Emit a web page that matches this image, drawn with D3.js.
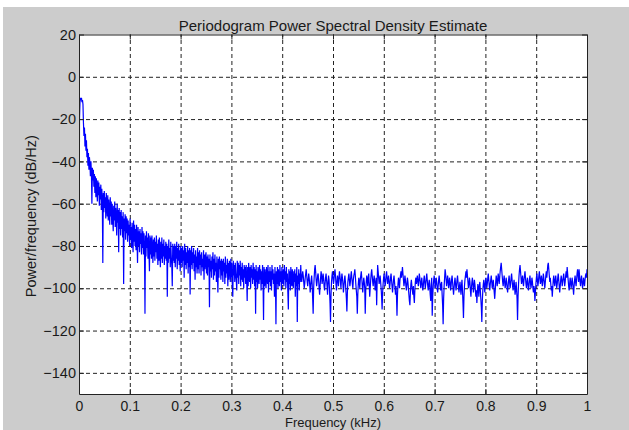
<!DOCTYPE html>
<html>
<head>
<meta charset="utf-8">
<script src="https://cdn.jsdelivr.net/npm/d3@7"></script>
<style>
  body { margin: 0; background: #fff; }
  svg text { font-family: "Liberation Sans", Arial, sans-serif; fill: #1a1a1a; }
</style>
</head>
<body>
<script>
// periodogram values (dB/Hz), 1025 bins evenly spaced 0..1 kHz
// (16 bins per row = 1/64 kHz)
const psdDb = [
  -114, -20, -12, -10, -11, -10, -12, -11, -13, -22, -28, -24, -33, -27, -35, -30,
  -38, -34, -42, -36, -44, -38, -41, -47, -40, -45, -60, -43, -49, -44, -52, -46,
  -55, -47, -57, -48, -53, -59, -49, -56, -50, -61, -52, -58, -51, -63, -53, -59,
  -88, -55, -64, -54, -62, -57, -67, -55, -61, -66, -56, -68, -58, -63, -70, -57,
  -66, -59, -70, -60, -67, -73, -61, -68, -59, -71, -62, -66, -75, -60, -69, -63,
  -83, -62, -72, -64, -75, -63, -72, -66, -76, -64, -98, -67, -73, -65, -77, -66,
  -74, -67, -78, -68, -75, -70, -80, -67, -77, -71, -81, -69, -76, -83, -68, -78,
  -70, -80, -72, -82, -70, -78, -88, -71, -80, -73, -83, -72, -79, -74, -84, -71,
  -81, -73, -84, -74, -82, -112, -75, -85, -73, -81, -76, -86, -74, -83, -92, -75,
  -84, -76, -86, -75, -82, -88, -77, -85, -76, -87, -78, -83, -75, -86, -79, -89,
  -77, -87, -76, -84, -90, -78, -86, -76, -88, -79, -85, -77, -89, -80, -86, -78,
  -87, -79, -104, -80, -88, -77, -86, -81, -90, -78, -85, -89, -99, -79, -87, -80,
  -88, -79, -90, -80, -86, -78, -91, -81, -87, -79, -89, -82, -92, -80, -88, -81,
  -90, -80, -87, -82, -95, -79, -89, -81, -91, -83, -88, -80, -93, -82, -90, -81,
  -103, -82, -89, -80, -91, -83, -88, -81, -92, -84, -96, -82, -90, -85, -93, -81,
  -91, -83, -93, -82, -89, -84, -94, -83, -90, -86, -92, -82, -96, -84, -91, -85,
  -83, -93, -85, -94, -84, -90, -86, -109, -84, -92, -87, -95, -85, -91, -83, -96,
  -86, -94, -84, -92, -88, -97, -85, -93, -102, -86, -95, -85, -91, -87, -96, -86,
  -94, -87, -97, -86, -92, -88, -98, -85, -95, -89, -93, -86, -99, -88, -96, -87,
  -89, -97, -86, -95, -88, -98, -104, -87, -94, -89, -97, -88, -93, -96, -101, -87,
  -95, -88, -98, -89, -94, -87, -99, -90, -96, -88, -97, -91, -100, -89, -95, -90,
  -98, -89, -96, -106, -90, -99, -88, -94, -97, -90, -100, -89, -95, -91, -98, -88,
  -96, -90, -99, -91, -112, -89, -97, -92, -100, -90, -95, -98, -89, -96, -91, -101,
  -92, -98, -89, -97, -115, -90, -99, -91, -96, -100, -90, -95, -98, -89, -102, -92,
  -97, -90, -99, -92, -101, -89, -96, -91, -98, -93, -104, -90, -97, -117, -92, -98,
  -90, -100, -91, -96, -99, -89, -97, -92, -101, -90, -95, -98, -91, -99, -89, -96,
  -92, -100, -90, -97, -93, -102, -110, -91, -98, -92, -101, -90, -96, -99, -91, -97,
  -100, -92, -97, -91, -104, -93, -99, -90, -116, -94, -98, -91, -101, -93, -97, -89,
  -95, -97, -94, -92, -94, -97, -100, -98, -95, -93, -91, -94, -97, -99, -96, -93,
  -95, -98, -102, -99, -96, -94, -98, -105, -112, -100, -95, -91, -89, -92, -96, -99,
  -97, -94, -93, -96, -100, -103, -99, -95, -92, -94, -98, -96, -93, -95, -99, -101,
  -98, -95, -93, -96, -99, -103, -97, -94, -96, -101, -107, -116, -103, -97, -94, -92,
  -95, -98, -96, -93, -91, -94, -98, -101, -97, -94, -96, -99, -95, -92, -94, -97,
  -100, -96, -93, -95, -98, -102, -99, -96, -94, -97, -101, -105, -111, -102, -97, -95,
  -93, -96, -99, -97, -94, -92, -95, -98, -100, -96, -94, -93, -91, -94, -98, -101,
  -104, -112, -103, -98, -95, -97, -100, -96, -94, -92, -95, -99, -102, -98, -95, -97,
  -100, -112, -101, -97, -94, -96, -99, -95, -93, -98, -104, -100, -96, -93, -91, -94,
  -97, -99, -96, -94, -97, -101, -98, -95, -108, -97, -89, -92, -95, -98, -96, -94,
  -97, -100, -104, -110, -102, -98, -95, -93, -96, -99, -97, -94, -92, -95, -98, -96,
  -94, -97, -100, -98, -95, -93, -96, -99, -102, -99, -96, -94, -97, -100, -103, -99,
  -104, -113, -103, -98, -95, -97, -100, -96, -94, -92, -95, -93, -90, -93, -96, -99,
  -97, -94, -96, -99, -101, -98, -95, -97, -100, -103, -106, -108, -102, -98, -96, -99,
  -101, -103, -99, -104, -107, -101, -97, -95, -98, -96, -94, -97, -99, -96, -93, -95,
  -98, -100, -97, -95, -98, -101, -99, -96, -94, -97, -100, -98, -95, -93, -96, -99,
  -101, -98, -96, -99, -103, -106, -98, -95, -113, -104, -99, -96, -94, -97, -100, -98,
  -95, -97, -100, -102, -99, -96, -94, -97, -99, -101, -98, -97, -103, -108, -117, -105,
  -99, -95, -91, -93, -96, -99, -97, -94, -96, -100, -98, -95, -97, -101, -99, -96,
  -94, -97, -100, -103, -100, -97, -95, -98, -101, -99, -96, -94, -97, -100, -102, -99,
  -97, -100, -103, -99, -96, -101, -107, -114, -104, -99, -96, -94, -92, -95, -91, -94,
  -97, -100, -98, -95, -97, -101, -104, -100, -97, -95, -98, -102, -99, -96, -98, -101,
  -104, -101, -107, -102, -98, -100, -104, -99, -97, -101, -105, -109, -116, -106, -101, -98,
  -96, -99, -102, -98, -95, -97, -100, -98, -95, -93, -96, -99, -101, -98, -96, -94,
  -97, -100, -98, -96, -99, -102, -105, -101, -97, -94, -96, -99, -96, -93, -95, -98,
  -95, -92, -90, -88, -91, -94, -97, -99, -96, -94, -97, -100, -98, -95, -97, -100,
  -102, -99, -96, -94, -97, -100, -98, -95, -93, -96, -99, -101, -98, -96, -99, -103,
  -101, -97, -100, -105, -115, -104, -98, -94, -91, -89, -92, -95, -98, -96, -94, -97,
  -99, -96, -94, -92, -95, -98, -100, -97, -95, -98, -101, -99, -96, -94, -97, -100,
  -98, -95, -97, -100, -102, -99, -101, -106, -102, -98, -95, -93, -96, -99, -97, -94,
  -92, -95, -98, -96, -94, -97, -99, -96, -93, -95, -98, -100, -97, -94, -92, -95,
  -92, -89, -88, -91, -94, -97, -95, -98, -101, -99, -104, -100, -96, -94, -97, -99,
  -96, -94, -97, -100, -98, -95, -93, -96, -99, -102, -99, -96, -94, -96, -99, -97,
  -95, -93, -96, -99, -97, -94, -92, -95, -90, -93, -96, -99, -101, -98, -95, -97,
  -100, -98, -95, -97, -100, -103, -99, -96, -94, -97, -99, -96, -93, -91, -94, -97,
  -91, -94, -97, -99, -96, -94, -97, -100, -98, -95, -97, -99, -96, -94, -93, -95,
  -91
];
const freqMaxKHz = 1;
const xTicks = [0, 0.1, 0.2, 0.3, 0.4, 0.5, 0.6, 0.7, 0.8, 0.9, 1];
const yTicks = [-140, -120, -100, -80, -60, -40, -20, 0, 20];

const title = "Periodogram Power Spectral Density Estimate";
const xLabel = "Frequency (kHz)";
const yLabel = "Power/frequency (dB/Hz)";

const W = 629, H = 430;
const mLeft = 79, mRight = 587, mTop = 34.5, mBottom = 394;

const svg = d3.select("body").append("svg")
  .attr("width", W)
  .attr("height", H);

// figure background (grey), small white margin top/left like the screenshot
svg.append("rect").attr("width", W).attr("height", H).attr("fill", "#fff");
svg.append("rect").attr("x", 3).attr("y", 7)
  .attr("width", W - 3).attr("height", H - 7).attr("fill", "#cccccc");

const x = d3.scaleLinear().domain([0, freqMaxKHz]).range([mLeft, mRight]);
const y = d3.scaleLinear().domain([-150, 20]).range([mBottom, mTop]);

svg.append("rect")
  .attr("x", mLeft).attr("y", mTop)
  .attr("width", mRight - mLeft).attr("height", mBottom - mTop)
  .attr("fill", "#fff");

// grid
const gridX = svg.append("g")
  .attr("transform", "translate(0," + mBottom + ")")
  .call(d3.axisBottom(x).tickValues(xTicks.slice(1, -1)).tickSize(-(mBottom - mTop)).tickFormat(""));
const gridY = svg.append("g")
  .attr("transform", "translate(" + mLeft + ",0)")
  .call(d3.axisLeft(y).tickValues(yTicks.slice(0, -1)).tickSize(-(mRight - mLeft)).tickFormat(""));
[gridX, gridY].forEach(function(g) {
  g.select(".domain").remove();
  g.selectAll("line")
    .attr("stroke", "#222")
    .attr("stroke-width", 1)
    .attr("stroke-dasharray", "4,3");
});

// spectrum line
svg.append("clipPath").attr("id", "clip")
  .append("rect")
  .attr("x", mLeft).attr("y", mTop)
  .attr("width", mRight - mLeft).attr("height", mBottom - mTop);

const n = psdDb.length;
const line = d3.line()
  .x(function(d, i) { return x(i / (n - 1) * freqMaxKHz); })
  .y(function(d) { return y(d); });

svg.append("path")
  .datum(psdDb)
  .attr("clip-path", "url(#clip)")
  .attr("fill", "none")
  .attr("stroke", "#0000ff")
  .attr("stroke-width", 1.2)
  .attr("d", line);

// axes, ticks pointing inward (box on)
function styleAxis(g) {
  g.select(".domain").attr("stroke", "#222").attr("stroke-width", 1);
  g.selectAll(".tick line").attr("stroke", "#222");
  g.selectAll("text")
    .style("font-size", "14.5px")
    .style("font-family", "'Liberation Sans', Arial, sans-serif")
    .attr("fill", "#1a1a1a");
}

const xAxisG = svg.append("g")
  .attr("transform", "translate(0," + mBottom + ")")
  .call(d3.axisBottom(x).tickValues(xTicks).tickSize(-5).tickSizeOuter(0).tickPadding(7)
    .tickFormat(d3.format("~g")))
  .call(styleAxis);
xAxisG.selectAll("text").style("font-size", "14px");

svg.append("g")
  .attr("transform", "translate(0," + mTop + ")")
  .call(d3.axisTop(x).tickValues(xTicks).tickSize(-5).tickSizeOuter(0).tickFormat(""))
  .call(styleAxis);

svg.append("g")
  .attr("transform", "translate(" + mLeft + ",0)")
  .call(d3.axisLeft(y).tickValues(yTicks).tickSize(-5).tickSizeOuter(0).tickPadding(3))
  .call(styleAxis);

svg.append("g")
  .attr("transform", "translate(" + mRight + ",0)")
  .call(d3.axisRight(y).tickValues(yTicks).tickSize(-5).tickSizeOuter(0).tickFormat(""))
  .call(styleAxis);

// labels
svg.append("text")
  .attr("x", (mLeft + mRight) / 2).attr("y", 31)
  .attr("text-anchor", "middle")
  .style("font-size", "15px")
  .text(title);

svg.append("text")
  .attr("x", (mLeft + mRight) / 2).attr("y", 427)
  .attr("text-anchor", "middle")
  .style("font-size", "13px")
  .text(xLabel);

svg.append("text")
  .attr("transform", "translate(36," + ((mTop + mBottom) / 2 + 2) + ") rotate(-90)")
  .attr("text-anchor", "middle")
  .style("font-size", "14.5px")
  .text(yLabel);
</script>
</body>
</html>
